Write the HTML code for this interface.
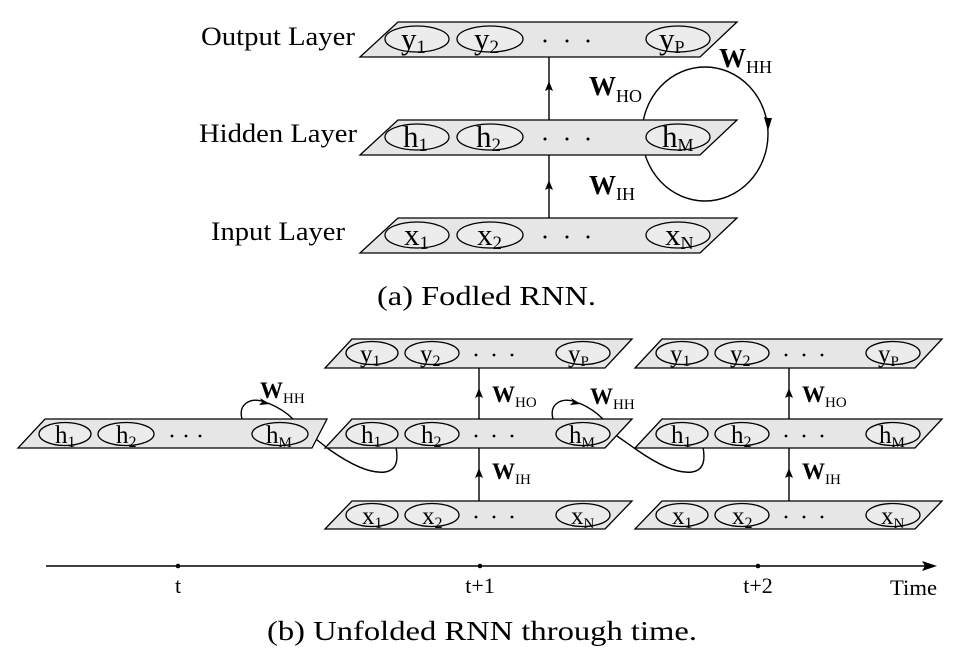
<!DOCTYPE html>
<html><head><meta charset="utf-8"><style>
html,body{margin:0;padding:0;background:#fff}
svg{display:block}
text{font-family:"Liberation Serif",serif;fill:#000}
.pl{fill:#e6e6e6;stroke:#000;stroke-width:1.3}
.el{fill:#ececec;stroke:#000;stroke-width:1.3}
.ln{fill:none;stroke:#000;stroke-width:1.4}
.b{font-weight:bold}
</style></head><body>
<svg width="961" height="657" viewBox="0 0 961 657" xmlns="http://www.w3.org/2000/svg">

<!-- ===== (a) Folded RNN ===== -->
<text x="201" y="45" font-size="26" textLength="154" lengthAdjust="spacingAndGlyphs">Output Layer</text>
<text x="199" y="142" font-size="26" textLength="158" lengthAdjust="spacingAndGlyphs">Hidden Layer</text>
<text x="211" y="240" font-size="26" textLength="134" lengthAdjust="spacingAndGlyphs">Input Layer</text>

<ellipse cx="705" cy="134" rx="63" ry="67" class="ln" stroke-width="2"/>
<path d="M768,118 l-4,-1 l4,14 l4,-13 z" fill="#000"/>

<line x1="549" y1="218" x2="549" y2="155" class="ln"/>
<path d="M549,180 l-4,10 l4,-2 l4,2 z" fill="#000"/>
<line x1="549" y1="120" x2="549" y2="57" class="ln"/>
<path d="M549,81 l-4,10 l4,-2 l4,2 z" fill="#000"/>

<g id="top">
<polygon class="pl" points="398,22 737,22 700,57 360,57"/>
<ellipse class="el" cx="417" cy="39" rx="32" ry="13"/>
<ellipse class="el" cx="490" cy="39" rx="33" ry="13"/>
<ellipse class="el" cx="678" cy="39" rx="32" ry="13"/>
<circle cx="545" cy="41" r="1.5"/><circle cx="567" cy="41" r="1.5"/><circle cx="588" cy="41" r="1.5"/>
</g>
<text x="401" y="49" font-size="31">y<tspan font-size="19" dy="4">1</tspan></text>
<text x="474" y="49" font-size="31">y<tspan font-size="19" dy="4">2</tspan></text>
<text x="659" y="49" font-size="31">y<tspan font-size="18" dy="4">P</tspan></text>

<use href="#top" transform="translate(0,98)"/>
<text x="403" y="147" font-size="31">h<tspan font-size="19" dy="4">1</tspan></text>
<text x="476" y="147" font-size="31">h<tspan font-size="19" dy="4">2</tspan></text>
<text x="662" y="147" font-size="31">h<tspan font-size="18" dy="4">M</tspan></text>

<use href="#top" transform="translate(0,196)"/>
<text x="404" y="245" font-size="31">x<tspan font-size="19" dy="4">1</tspan></text>
<text x="477" y="245" font-size="31">x<tspan font-size="19" dy="4">2</tspan></text>
<text x="665" y="245" font-size="31">x<tspan font-size="18" dy="4">N</tspan></text>

<text x="589" y="95" font-size="27" class="b">W<tspan font-size="18" font-weight="normal" dy="7">HO</tspan></text>
<text x="719" y="67" font-size="27" class="b">W<tspan font-size="18" font-weight="normal" dy="6">HH</tspan></text>
<text x="589" y="194" font-size="27" class="b">W<tspan font-size="18" font-weight="normal" dy="6">IH</tspan></text>

<text x="377" y="305" font-size="27" textLength="219" lengthAdjust="spacingAndGlyphs">(a) Fodled RNN.</text>

<!-- ===== (b) Unfolded ===== -->
<path class="ln" d="M312,436 L330,450 C350,464 370,474 385,472 C398,470 398,458 396,447"/>
<path class="ln" d="M617,436 L637,450 C657,464 677,474 692,472 C705,470 705,458 703,447"/>

<polygon class="pl" points="45,419 327,419 312,448 18,448"/>
<ellipse class="el" cx="65" cy="434" rx="26" ry="11.5"/>
<ellipse class="el" cx="126" cy="434" rx="28" ry="11.5"/>
<ellipse class="el" cx="280" cy="434" rx="28" ry="11.5"/>
<circle cx="172" cy="436" r="1.4"/><circle cx="186" cy="436" r="1.4"/><circle cx="200" cy="436" r="1.4"/>
<text x="55" y="443" font-size="25">h<tspan font-size="16" dy="4">1</tspan></text>
<text x="116" y="443" font-size="25">h<tspan font-size="16" dy="4">2</tspan></text>
<text x="266" y="443" font-size="25">h<tspan font-size="15" dy="4">M</tspan></text>
<path class="ln" d="M242,419 C238,404 250,398 262,401" />
<path d="M270,404 l-10,-6 l2,4 l-3,3 z" fill="#000"/>
<path class="ln" d="M268,403 C280,408 288,414 293,419"/>
<text x="260" y="398" font-size="23" class="b">W<tspan font-size="15" font-weight="normal" dy="5">HH</tspan></text>

<g id="c2">
<line x1="479" y1="501" x2="479" y2="448" class="ln"/>
<path d="M479,468 l-4,10 l4,-2 l4,2 z" fill="#000"/>
<line x1="479" y1="419" x2="479" y2="368" class="ln"/>
<path d="M479,388 l-4,10 l4,-2 l4,2 z" fill="#000"/>
<polygon class="pl" points="352,339 632,339 605,368 325,368"/>
<ellipse class="el" cx="372" cy="353" rx="26" ry="11.5"/>
<ellipse class="el" cx="432" cy="353" rx="27" ry="11.5"/>
<ellipse class="el" cx="583" cy="353" rx="27" ry="11.5"/>
<circle cx="476" cy="355" r="1.4"/><circle cx="494" cy="355" r="1.4"/><circle cx="512" cy="355" r="1.4"/>
<text x="360" y="362" font-size="25">y<tspan font-size="16" dy="4">1</tspan></text>
<text x="420" y="362" font-size="25">y<tspan font-size="16" dy="4">2</tspan></text>
<text x="568" y="362" font-size="25">y<tspan font-size="15" dy="4">P</tspan></text>
<polygon class="pl" points="352,419 632,419 605,448 325,448"/>
<ellipse class="el" cx="372" cy="434" rx="26" ry="11.5"/>
<ellipse class="el" cx="432" cy="434" rx="27" ry="11.5"/>
<ellipse class="el" cx="583" cy="434" rx="27" ry="11.5"/>
<circle cx="476" cy="436" r="1.4"/><circle cx="494" cy="436" r="1.4"/><circle cx="512" cy="436" r="1.4"/>
<text x="361" y="443" font-size="25">h<tspan font-size="16" dy="4">1</tspan></text>
<text x="421" y="443" font-size="25">h<tspan font-size="16" dy="4">2</tspan></text>
<text x="569" y="443" font-size="25">h<tspan font-size="15" dy="4">M</tspan></text>
<polygon class="pl" points="352,501 632,501 605,529 325,529"/>
<ellipse class="el" cx="372" cy="515" rx="26" ry="11.5"/>
<ellipse class="el" cx="432" cy="515" rx="27" ry="11.5"/>
<ellipse class="el" cx="583" cy="515" rx="27" ry="11.5"/>
<circle cx="476" cy="517" r="1.4"/><circle cx="494" cy="517" r="1.4"/><circle cx="512" cy="517" r="1.4"/>
<text x="362" y="524" font-size="25">x<tspan font-size="16" dy="4">1</tspan></text>
<text x="422" y="524" font-size="25">x<tspan font-size="16" dy="4">2</tspan></text>
<text x="571" y="524" font-size="25">x<tspan font-size="15" dy="4">N</tspan></text>
<text x="492" y="402" font-size="23" class="b">W<tspan font-size="15" font-weight="normal" dy="5">HO</tspan></text>
<text x="492" y="479" font-size="23" class="b">W<tspan font-size="15" font-weight="normal" dy="5">IH</tspan></text>
</g>
<use href="#c2" transform="translate(310,0)"/>

<path class="ln" d="M553,419 C549,404 561,398 573,401"/>
<path d="M581,404 l-10,-6 l2,4 l-3,3 z" fill="#000"/>
<path class="ln" d="M579,403 C591,408 598,414 603,419"/>
<text x="590" y="404" font-size="23" class="b">W<tspan font-size="15" font-weight="normal" dy="5">HH</tspan></text>

<line x1="46" y1="566" x2="925" y2="566" class="ln" stroke-width="1.2"/>
<path d="M937,566 l-15,-5 l3,5 l-3,5 z" fill="#000"/>
<circle cx="178" cy="566" r="2.3"/>
<circle cx="480" cy="566" r="2.3"/>
<circle cx="758" cy="566" r="2.3"/>
<text x="178" y="593" font-size="22" text-anchor="middle">t</text>
<text x="480" y="593" font-size="22" text-anchor="middle">t+1</text>
<text x="758" y="593" font-size="22" text-anchor="middle">t+2</text>
<text x="890" y="595" font-size="22" textLength="47" lengthAdjust="spacingAndGlyphs">Time</text>

<text x="267" y="640" font-size="27" textLength="430" lengthAdjust="spacingAndGlyphs">(b) Unfolded RNN through time.</text>
</svg>
</body></html>
